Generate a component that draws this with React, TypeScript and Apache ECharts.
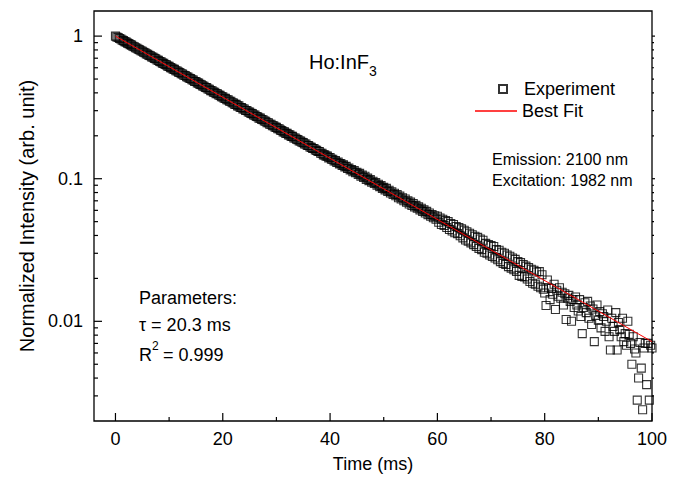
import React, { useEffect, useRef } from 'react';
import * as echarts from 'echarts';

// ---- data ----
const timeStepMs = 0.25; // sampling interval of the decay trace, starting at 0 ms
const intensity = [
  1.000, 0.985, 0.979, 0.962,
  0.954, 0.938, 0.930, 0.915,
  0.908, 0.893, 0.886, 0.871,
  0.864, 0.850, 0.843, 0.829,
  0.823, 0.809, 0.803, 0.789,
  0.784, 0.770, 0.765, 0.751,
  0.746, 0.733, 0.728, 0.715,
  0.710, 0.698, 0.693, 0.680,
  0.676, 0.664, 0.660, 0.647,
  0.644, 0.632, 0.628, 0.616,
  0.613, 0.601, 0.598, 0.587,
  0.584, 0.572, 0.569, 0.559,
  0.556, 0.545, 0.542, 0.532,
  0.529, 0.519, 0.516, 0.506,
  0.504, 0.494, 0.491, 0.481,
  0.480, 0.470, 0.468, 0.459,
  0.456, 0.448, 0.445, 0.436,
  0.435, 0.426, 0.424, 0.415,
  0.414, 0.405, 0.404, 0.395,
  0.394, 0.386, 0.384, 0.376,
  0.375, 0.367, 0.366, 0.358,
  0.357, 0.349, 0.349, 0.341,
  0.340, 0.332, 0.332, 0.324,
  0.324, 0.316, 0.316, 0.309,
  0.308, 0.301, 0.301, 0.294,
  0.293, 0.287, 0.286, 0.280,
  0.279, 0.273, 0.272, 0.266,
  0.266, 0.260, 0.259, 0.254,
  0.253, 0.247, 0.247, 0.241,
  0.241, 0.235, 0.235, 0.230,
  0.229, 0.224, 0.224, 0.219,
  0.218, 0.213, 0.213, 0.208,
  0.208, 0.203, 0.203, 0.198,
  0.198, 0.193, 0.193, 0.189,
  0.188, 0.184, 0.184, 0.180,
  0.179, 0.175, 0.175, 0.171,
  0.171, 0.167, 0.166, 0.163,
  0.163, 0.159, 0.158, 0.155,
  0.155, 0.151, 0.151, 0.147,
  0.147, 0.144, 0.144, 0.140,
  0.141, 0.137, 0.137, 0.133,
  0.134, 0.130, 0.131, 0.127,
  0.128, 0.124, 0.125, 0.121,
  0.122, 0.118, 0.119, 0.115,
  0.116, 0.112, 0.114, 0.110,
  0.111, 0.107, 0.109, 0.104,
  0.106, 0.102, 0.104, 0.0990,
  0.101, 0.0970, 0.0985, 0.0945,
  0.0960, 0.0925, 0.0940, 0.0900,
  0.0915, 0.0880, 0.0895, 0.0855,
  0.0870, 0.0835, 0.0855, 0.0815,
  0.0830, 0.0795, 0.0810, 0.0775,
  0.0790, 0.0760, 0.0775, 0.0735,
  0.0755, 0.0720, 0.0735, 0.0700,
  0.0720, 0.0685, 0.0700, 0.0665,
  0.0685, 0.0650, 0.0670, 0.0635,
  0.0650, 0.0620, 0.0635, 0.0605,
  0.0620, 0.0590, 0.0605, 0.0575,
  0.0590, 0.0560, 0.0575, 0.0545,
  0.0560, 0.0533, 0.0550, 0.0520,
  0.0545, 0.0495, 0.0530, 0.0478,
  0.0520, 0.0470, 0.0508, 0.0455,
  0.0500, 0.0440, 0.0485, 0.0430,
  0.0478, 0.0418, 0.0462, 0.0412,
  0.0455, 0.0398, 0.0445, 0.0385,
  0.0435, 0.0372, 0.0425, 0.0365,
  0.0415, 0.0355, 0.0405, 0.0345,
  0.0395, 0.0335, 0.0388, 0.0325,
  0.0378, 0.0318, 0.0370, 0.0305,
  0.0352, 0.0300, 0.0345, 0.0292,
  0.0340, 0.0285, 0.0335, 0.0278,
  0.0318, 0.0270, 0.0315, 0.0262,
  0.0305, 0.0255, 0.0300, 0.0250,
  0.0292, 0.0242, 0.0286, 0.0236,
  0.0278, 0.0230, 0.0272, 0.0224,
  0.0262, 0.0210, 0.0258, 0.0206,
  0.0250, 0.0205, 0.0244, 0.0198,
  0.0238, 0.0190, 0.0232, 0.0185,
  0.0228, 0.0182, 0.0222, 0.0176,
  0.0223, 0.0172, 0.0212, 0.0168,
  0.0158, 0.0129, 0.0195, 0.0172,
  0.0142, 0.0170, 0.0155, 0.0182,
  0.0121, 0.0165, 0.0150, 0.0172,
  0.0145, 0.0160, 0.0130, 0.0156,
  0.0103, 0.0145, 0.0152, 0.0138,
  0.0100, 0.0142, 0.0125, 0.0148,
  0.0130, 0.0118, 0.0142, 0.0108,
  0.0082, 0.0125, 0.0135, 0.0115,
  0.0138, 0.0105, 0.0128, 0.0095,
  0.0122, 0.0072, 0.0110, 0.0130,
  0.0102, 0.0117, 0.0090, 0.0113,
  0.0108, 0.0085, 0.0100, 0.0120,
  0.0078, 0.0063, 0.0105, 0.0092,
  0.0085, 0.0115, 0.0063, 0.0098,
  0.00875, 0.0078, 0.0105, 0.0072,
  0.0082, 0.0068, 0.0100, 0.0081,
  0.0070, 0.0050, 0.0078, 0.0064,
  0.0060, 0.0028, 0.0040, 0.0071,
  0.0047, 0.0024, 0.0065, 0.0070,
  0.0036, 0.0070, 0.0028, 0.0068,
  0.0065,
];
const fitTime = [0, 100];
const fitIntensity = [1, 0.0072];

const xTickLabels = [0, 20, 40, 60, 80, 100];
const xMinorTicks = [10, 30, 50, 70, 90];
const yTickLabels = [0.01, 0.1, 1];
const yMinorTicks = [
  0.003, 0.004, 0.005, 0.006, 0.007, 0.008, 0.009,
  0.02, 0.03, 0.04, 0.05, 0.06, 0.07, 0.08, 0.09,
  0.2, 0.3, 0.4, 0.5, 0.6, 0.7, 0.8, 0.9,
];

const X_MIN = -4;
const X_MAX = 100;
const Y_MIN = 0.002;
const Y_MAX = 1.5;
const FONT = '"Liberation Sans", Arial, Helvetica, sans-serif';

export default function App() {
  const ref = useRef<HTMLDivElement>(null);

  useEffect(() => {
    if (!ref.current) return;
    const chart = echarts.init(ref.current, null, { renderer: 'svg' });

    const expData = intensity.map((v, i) => [i * timeStepMs, v]);
    const fitData = fitTime.map((t, i) => [t, fitIntensity[i]]);

    // tick marks: [x, y, length, direction] ; direction 0 = up, 1 = right
    const tickData: number[][] = [];
    xTickLabels.forEach((x) => tickData.push([x, Y_MIN, 8, 0]));
    xMinorTicks.forEach((x) => tickData.push([x, Y_MIN, 4, 0]));
    yTickLabels.forEach((y) => {
      tickData.push([X_MIN, y, 8, 1]);
      tickData.push([X_MAX, y, 3, 1]);
    });
    yMinorTicks.forEach((y) => {
      tickData.push([X_MIN, y, 4, 1]);
      tickData.push([X_MAX, y, 2, 1]);
    });

    const isLabel = (v: number, l: number) => Math.abs(Math.log10(v) - Math.log10(l)) < 1e-6;

    const txt = (x: number, y: number, text: string, size: number) => ({
      type: 'text',
      x,
      y,
      silent: true,
      style: {
        text,
        fontSize: size,
        fontFamily: FONT,
        fill: '#000',
        verticalAlign: 'middle',
        align: 'left',
      },
    });

    const legendText = { color: '#000', fontSize: 18, fontFamily: FONT };

    const option: any = {
      animation: false,
      backgroundColor: '#fff',
      grid: {
        left: 94,
        right: 28,
        top: 11,
        bottom: 61,
        show: true,
        borderColor: '#000',
        borderWidth: 1.3,
        backgroundColor: 'transparent',
      },
      xAxis: {
        type: 'value',
        min: X_MIN,
        max: X_MAX,
        axisLine: { show: false },
        axisTick: { show: false },
        splitLine: { show: false },
        axisLabel: {
          color: '#000',
          fontSize: 18,
          fontFamily: FONT,
          margin: 9,
          formatter: (v: number) => (xTickLabels.includes(v) ? String(v) : ''),
        },
        name: 'Time (ms)',
        nameLocation: 'middle',
        nameGap: 34,
        nameTextStyle: { color: '#000', fontSize: 18, fontFamily: FONT },
      },
      yAxis: {
        type: 'log',
        logBase: 10,
        min: Y_MIN,
        max: Y_MAX,
        axisLine: { show: false },
        axisTick: { show: false },
        splitLine: { show: false },
        axisLabel: {
          color: '#000',
          fontSize: 18,
          fontFamily: FONT,
          margin: 11,
          showMinLabel: false,
          showMaxLabel: false,
          formatter: (v: number) => {
            const hit = yTickLabels.find((l) => isLabel(v, l));
            return hit === undefined ? '' : String(hit);
          },
        },
        name: 'Normalized Intensity (arb. unit)',
        nameLocation: 'middle',
        nameGap: 55,
        nameTextStyle: { color: '#000', fontSize: 20, fontFamily: FONT },
      },
      legend: [
        {
          orient: 'vertical',
          left: 493,
          top: 75,
          itemWidth: 8,
          itemHeight: 8,
          selectedMode: false,
          formatter: (name: string) => `{g|}${name}`,
          textStyle: { ...legendText, rich: { g: { width: 12 } } },
          data: [{ name: 'Experiment', icon: 'rect' }],
        },
        {
          orient: 'vertical',
          left: 470,
          top: 97,
          itemWidth: 42,
          itemHeight: 1.3,
          selectedMode: false,
          textStyle: legendText,
          data: [{ name: 'Best Fit', icon: 'rect' }],
        },
      ],
      series: [
        {
          name: 'Experiment',
          type: 'scatter',
          data: expData,
          symbol: 'rect',
          symbolSize: 8,
          itemStyle: { color: 'rgba(255,255,255,0)', borderColor: '#000', borderWidth: 1.1 },
          z: 2,
        },
        {
          name: 'Best Fit',
          type: 'line',
          data: fitData,
          symbol: 'none',
          lineStyle: { color: '#ff0000', width: 1 },
          itemStyle: { color: '#ff0000' },
          z: 3,
        },
        {
          type: 'custom',
          silent: true,
          data: tickData,
          z: 4,
          renderItem: (_p: any, api: any) => {
            const pt = api.coord([api.value(0), api.value(1)]);
            const len = api.value(2);
            const dir = api.value(3);
            const x2 = dir === 1 ? pt[0] + len : pt[0];
            const y2 = dir === 0 ? pt[1] - len : pt[1];
            return {
              type: 'line',
              shape: { x1: pt[0], y1: pt[1], x2, y2 },
              style: { stroke: '#000', lineWidth: 1.2 },
            };
          },
        },
      ],
      graphic: [
        txt(309, 62, 'Ho:InF', 20),
        txt(369, 71, '3', 14),
        txt(492, 159, 'Emission: 2100 nm', 16),
        txt(492, 180, 'Excitation: 1982 nm', 16),
        txt(139, 298, 'Parameters:', 18),
        txt(139, 325, '\u03c4 = 20.3 ms', 18),
        txt(139, 355, 'R', 18),
        txt(152, 346, '2', 12),
        txt(158, 355, ' = 0.999', 18),
      ],
    };

    chart.setOption(option);
    return () => chart.dispose();
  }, []);

  return (
    <div
      ref={ref}
      style={{ position: 'absolute', left: 0, top: 0, width: 680, height: 482, background: '#fff' }}
    />
  );
}
